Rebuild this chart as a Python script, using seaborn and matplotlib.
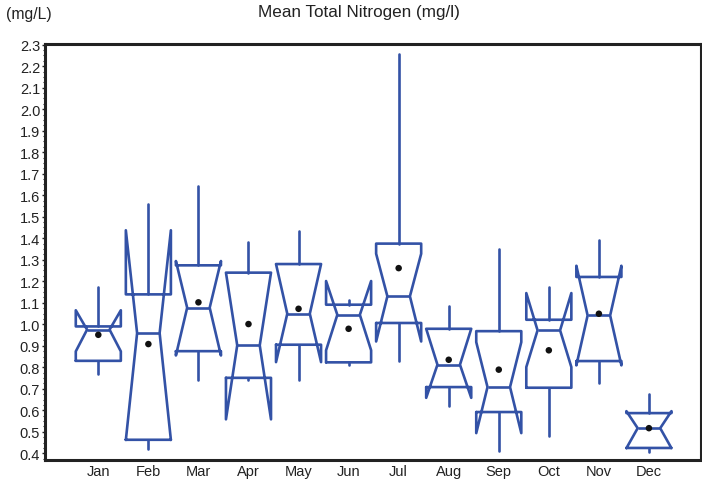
import matplotlib
matplotlib.use("Agg")
import matplotlib.pyplot as plt
from matplotlib.ticker import MultipleLocator
import seaborn as sns
import pandas as pd

months = ["Jan", "Feb", "Mar", "Apr", "May", "Jun", "Jul", "Aug", "Sep", "Oct", "Nov", "Dec"]
whisker_low = [0.770, 0.418, 0.740, 0.740, 0.740, 0.810, 0.828, 0.618, 0.410, 0.480, 0.728, 0.404]
q1 = [0.830, 0.463, 0.875, 0.751, 0.905, 0.823, 1.006, 0.708, 0.592, 0.705, 0.829, 0.425]
notch_low = [0.874, 0.462, 0.855, 0.558, 0.824, 0.879, 0.920, 0.658, 0.494, 0.801, 0.809, 0.424]
median = [0.975, 0.959, 1.077, 0.902, 1.049, 1.044, 1.130, 0.812, 0.708, 0.972, 1.041, 0.517]
notch_high = [1.065, 1.437, 1.294, 1.240, 1.280, 1.201, 1.328, 0.979, 0.917, 1.145, 1.272, 0.596]
q3 = [0.990, 1.139, 1.274, 1.240, 1.280, 1.091, 1.375, 0.979, 0.968, 1.021, 1.220, 0.587]
whisker_high = [1.173, 1.561, 1.641, 1.382, 1.434, 1.111, 2.258, 1.083, 1.351, 1.173, 1.393, 0.674]
means = [0.951, 0.908, 1.102, 1.001, 1.072, 0.979, 1.261, 0.835, 0.789, 0.879, 1.049, 0.517]
yticks = [0.4, 0.5, 0.6, 0.7, 0.8, 0.9, 1.0, 1.1, 1.2, 1.3, 1.4, 1.5, 1.6, 1.7, 1.8, 1.9, 2.0, 2.1, 2.2, 2.3]

sns.set_style("ticks")
plt.rcParams["font.family"] = ["Liberation Sans", "DejaVu Sans"]

blue = "#3352a6"
fig = plt.figure(figsize=(7.02, 4.81), dpi=100)
ax = fig.add_axes([45 / 702, 20 / 481, 656 / 702, 416 / 481])

stats = []
for i, m in enumerate(months):
    stats.append(dict(label=m, med=median[i], q1=q1[i], q3=q3[i],
                      cilo=notch_low[i], cihi=notch_high[i],
                      whislo=whisker_low[i], whishi=whisker_high[i], fliers=[]))

positions = list(range(len(months)))
lw = 1.9
ax.bxp(stats, positions=positions, widths=0.9, shownotches=True, showcaps=False,
       showfliers=False, patch_artist=False,
       boxprops=dict(color=blue, linewidth=lw),
       whiskerprops=dict(color=blue, linewidth=lw),
       medianprops=dict(color=blue, linewidth=lw))

df = pd.DataFrame({"pos": positions, "mean": means})
sns.scatterplot(data=df, x="pos", y="mean", color="#111111", s=22, edgecolor="none",
                ax=ax, zorder=5, legend=False)

ax.set_xlim(-1.065, 12.04)
ax.set_ylim(0.369, 2.303)
ax.set_xticks(positions)
ax.set_xticklabels(months, fontsize=10.5, color="#222222")
ax.set_yticks(yticks)
ax.set_yticklabels([f"{v:.1f}" for v in yticks], fontsize=10.5, color="#222222")
ax.yaxis.set_minor_locator(MultipleLocator(0.025))
ax.tick_params(axis="y", which="major", length=2.5, width=1, pad=1, color="#222222")
ax.tick_params(axis="y", which="minor", length=1.5, width=0.8, color="#222222")
ax.tick_params(axis="x", length=0, pad=3)
ax.set_xlabel("")
ax.set_ylabel("")

for side in ["left", "bottom", "top"]:
    ax.spines[side].set_linewidth(2.2)
    ax.spines[side].set_color("#222222")
ax.spines["right"].set_linewidth(1.5)
ax.spines["right"].set_color("#222222")
ax.spines["right"].set_visible(True)
ax.spines["top"].set_visible(True)

fig.text(359 / 702, 1 - 12 / 481, "Mean Total Nitrogen (mg/l)", ha="center", va="center",
         fontsize=12.3, color="#222222")
fig.text(6 / 702, 1 - 15 / 481, "(mg/L)", ha="left", va="center", fontsize=11.3,
         color="#222222")

fig.savefig("out.png", dpi=100)
